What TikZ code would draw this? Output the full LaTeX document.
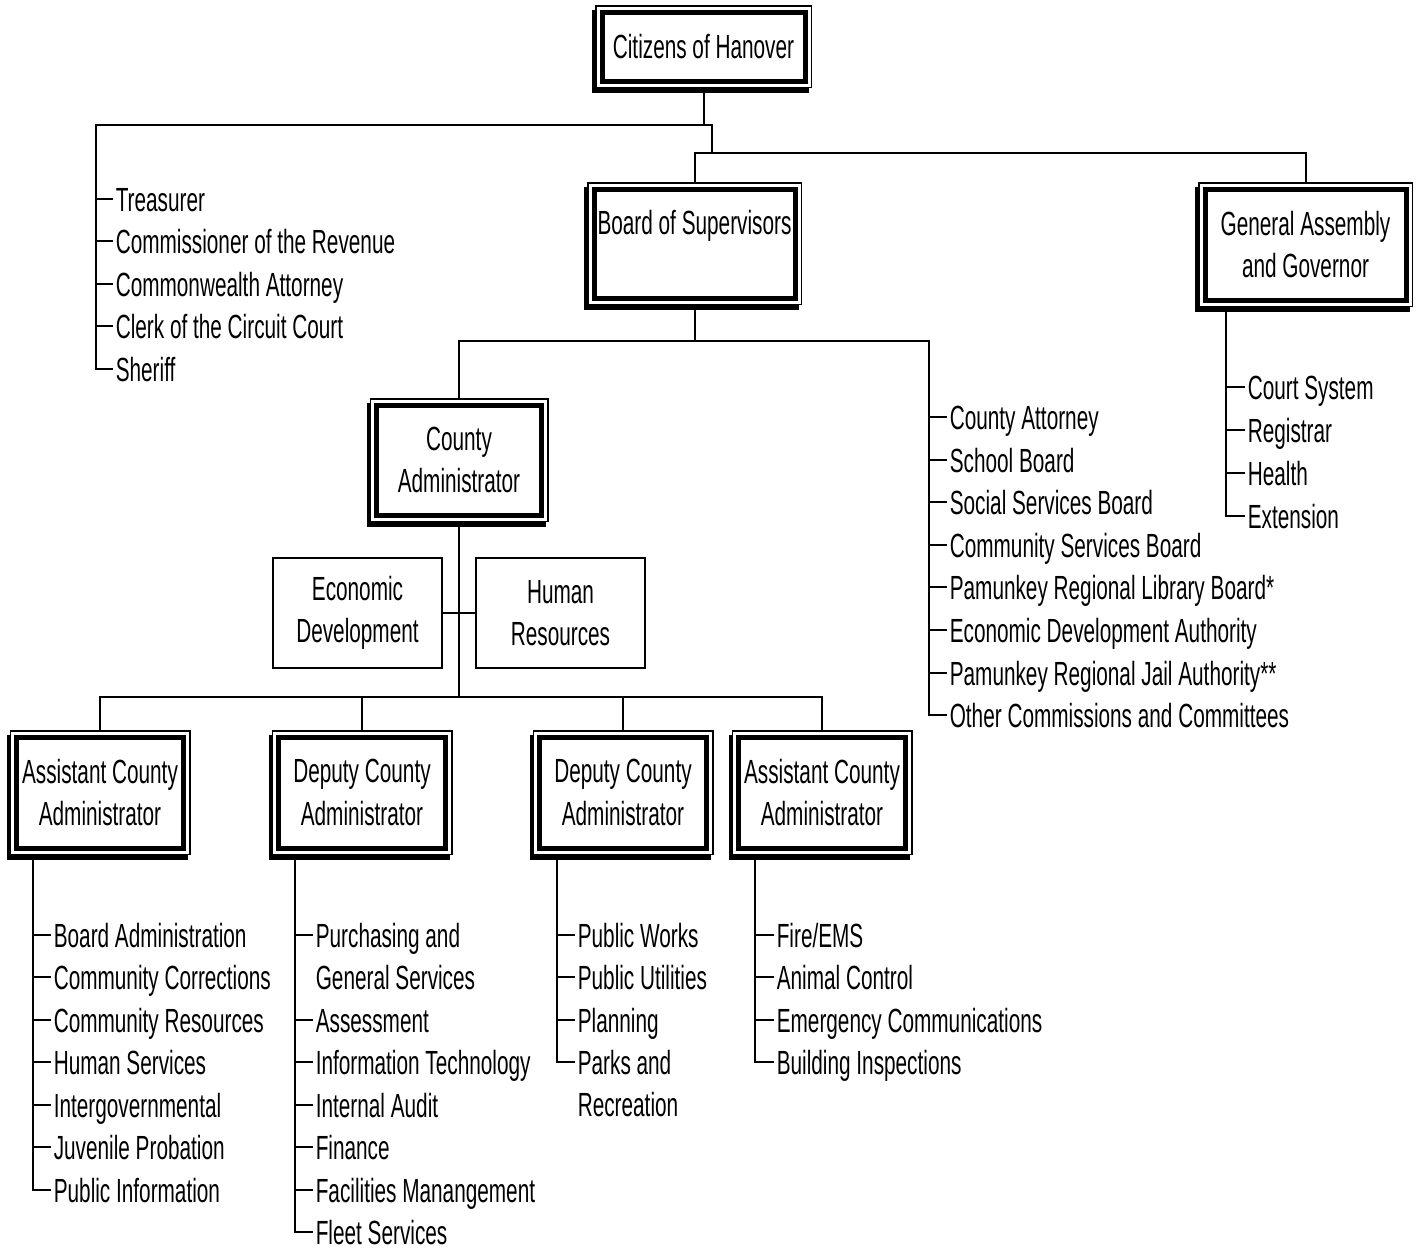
\documentclass[tikz,border=0pt]{standalone}
\usepackage{fontspec}
\setmainfont{Liberation Sans}[FakeStretch=0.62]
\usetikzlibrary{backgrounds}
\newcommand\chartfont{\fontsize{16.75pt}{21.25pt}\selectfont}
\newcommand\twolines[2]{\smash{\vtop{\hbox{#1}\hbox{#2}}}}
\tikzset{
  office/.style={draw, line width=2.5pt, fill=white, align=center, inner sep=0pt,
    preaction={fill=black, draw=black, line width=7pt,
      transform canvas={shift={(-1.5pt,-2.5pt)}}},
    preaction={draw=black, line width=7pt},
    preaction={draw=white, line width=5.5pt}},
  unit/.style={draw, line width=1pt, fill=white, align=center, inner sep=0pt,
    minimum width=84.5pt, minimum height=55pt},
  entry/.style={anchor=west, inner ysep=0pt, inner xsep=1.2pt, text height=15pt, text depth=3pt},
  link/.style={line width=1pt},
}
\begin{document}
\begin{tikzpicture}[x=0.5pt, y=-0.5pt, every node/.style={font=\chartfont}]
  \useasboundingbox (0,0) rectangle (1421,1249);

  % top offices
  \node[office, minimum width=101.5pt, minimum height=34.5pt] (cit) at (703.5,46.5) {Citizens of Hanover};
  \node[office, minimum width=100.5pt, minimum height=54.5pt] (bos) at (694.5,243.5) {Board of Supervisors\\\mbox{}};
  \node[office, minimum width=100.5pt, minimum height=55.5pt] (gov) at (1305.5,244.5) {General Assembly\\and Governor};
  \node[office, minimum width=82.5pt, minimum height=55pt] (cad) at (459,460) {County\\Administrator};

  % staff units
  \node[unit] (eco) at (357.5,613) {Economic\\Development};
  \node[unit] (hrs) at (560.5,613) {Human\\Resources};

  % assistant and deputy administrators
  \node[office, minimum width=83.5pt, minimum height=55.5pt] (asA) at (100,792.5) {Assistant County\\Administrator};
  \node[office, minimum width=83.5pt, minimum height=55.5pt] (dpA) at (362,792.5) {Deputy County\\Administrator};
  \node[office, minimum width=83.5pt, minimum height=55.5pt] (dpB) at (623,792.5) {Deputy County\\Administrator};
  \node[office, minimum width=83.5pt, minimum height=55.5pt] (asB) at (822,792.5) {Assistant County\\Administrator};

  % elected officers
  \node[entry] (o1) at (113,199) {Treasurer};
  \node[entry] (o2) at (113,241) {Commissioner of the Revenue};
  \node[entry] (o3) at (113,284) {Commonwealth Attorney};
  \node[entry] (o4) at (113,326) {Clerk of the Circuit Court};
  \node[entry] (o5) at (113,369) {Sheriff};

  % boards under the supervisors
  \node[entry] (s1) at (947,417) {County Attorney};
  \node[entry] (s2) at (947,460) {School Board};
  \node[entry] (s3) at (947,502) {Social Services Board};
  \node[entry] (s4) at (947,545) {Community Services Board};
  \node[entry] (s5) at (947,587) {Pamunkey Regional Library Board*};
  \node[entry] (s6) at (947,630) {Economic Development Authority};
  \node[entry] (s7) at (947,673) {Pamunkey Regional Jail Authority**};
  \node[entry] (s8) at (947,715) {Other Commissions and Committees};

  % state
  \node[entry] (g1) at (1245,387) {Court System};
  \node[entry] (g2) at (1245,430) {Registrar};
  \node[entry] (g3) at (1245,473) {Health};
  \node[entry] (g4) at (1245,516) {Extension};

  % departments
  \node[entry] (a1) at (51,935) {Board Administration};
  \node[entry] (a2) at (51,977) {Community Corrections};
  \node[entry] (a3) at (51,1020) {Community Resources};
  \node[entry] (a4) at (51,1062) {Human Services};
  \node[entry] (a5) at (51,1105) {Intergovernmental};
  \node[entry] (a6) at (51,1147) {Juvenile Probation};
  \node[entry] (a7) at (51,1190) {Public Information};

  \node[entry] (b1) at (313,935) {\twolines{Purchasing and}{General Services}};
  \node[entry] (b2) at (313,1020) {Assessment};
  \node[entry] (b3) at (313,1062) {Information Technology};
  \node[entry] (b4) at (313,1105) {Internal Audit};
  \node[entry] (b5) at (313,1147) {Finance};
  \node[entry] (b6) at (313,1190) {Facilities Manangement};
  \node[entry] (b7) at (313,1232) {Fleet Services};

  \node[entry] (c1) at (575,935) {Public Works};
  \node[entry] (c2) at (575,977) {Public Utilities};
  \node[entry] (c3) at (575,1020) {Planning};
  \node[entry] (c4) at (575,1062) {\twolines{Parks and}{Recreation}};

  \node[entry] (d1) at (774,935) {Fire/EMS};
  \node[entry] (d2) at (774,977) {Animal Control};
  \node[entry] (d3) at (774,1020) {Emergency Communications};
  \node[entry] (d4) at (774,1062) {Building Inspections};

  \begin{scope}[on background layer]
    \coordinate (j1) at (712,125);
    \coordinate (j2) at (712,153);
    \coordinate (lt) at (96,125);
    \coordinate (j3) at (929,341);
    \coordinate (gt) at (1226,0);
    \coordinate (j4) at (459,697);
    \coordinate (la) at (33,0);
    \coordinate (lb) at (295,0);
    \coordinate (lc) at (557,0);
    \coordinate (ld) at (755,0);

    % upper tree
    \draw[link] (cit) -- (cit |- lt);
    \draw[link] (j2) -- (j1) -- (lt) |- (o5.west);
    \draw[link] (o1.west -| lt) -- (o1.west) (o2.west -| lt) -- (o2.west)
      (o3.west -| lt) -- (o3.west) (o4.west -| lt) -- (o4.west);
    \draw[link] (bos) -- (bos |- j2) -- (gov |- j2) -- (gov);
    \draw[link] (gov -| gt) |- (g4.west);
    \draw[link] (g1.west -| gt) -- (g1.west) (g2.west -| gt) -- (g2.west)
      (g3.west -| gt) -- (g3.west);

    % supervisors
    \draw[link] (bos) -- (bos |- j3);
    \draw[link] (cad) |- (j3) |- (s8.west);
    \draw[link] (s1.west -| j3) -- (s1.west) (s2.west -| j3) -- (s2.west)
      (s3.west -| j3) -- (s3.west) (s4.west -| j3) -- (s4.west)
      (s5.west -| j3) -- (s5.west) (s6.west -| j3) -- (s6.west)
      (s7.west -| j3) -- (s7.west);

    % administrator
    \draw[link] (cad) -- (j4);
    \draw[link] (eco) -- (hrs);
    \draw[link] (asA) |- (j4) -| (asB);
    \draw[link] (dpA) -- (dpA |- j4);
    \draw[link] (dpB) -- (dpB |- j4);

    % departments
    \draw[link] (asA -| la) |- (a7.west);
    \draw[link] (a1.west -| la) -- (a1.west) (a2.west -| la) -- (a2.west)
      (a3.west -| la) -- (a3.west) (a4.west -| la) -- (a4.west)
      (a5.west -| la) -- (a5.west) (a6.west -| la) -- (a6.west);
    \draw[link] (dpA -| lb) |- (b7.west);
    \draw[link] (b1.west -| lb) -- (b1.west) (b2.west -| lb) -- (b2.west)
      (b3.west -| lb) -- (b3.west) (b4.west -| lb) -- (b4.west)
      (b5.west -| lb) -- (b5.west) (b6.west -| lb) -- (b6.west);
    \draw[link] (dpB -| lc) |- (c4.west);
    \draw[link] (c1.west -| lc) -- (c1.west) (c2.west -| lc) -- (c2.west)
      (c3.west -| lc) -- (c3.west);
    \draw[link] (asB -| ld) |- (d4.west);
    \draw[link] (d1.west -| ld) -- (d1.west) (d2.west -| ld) -- (d2.west)
      (d3.west -| ld) -- (d3.west);
  \end{scope}
\end{tikzpicture}
\end{document}
